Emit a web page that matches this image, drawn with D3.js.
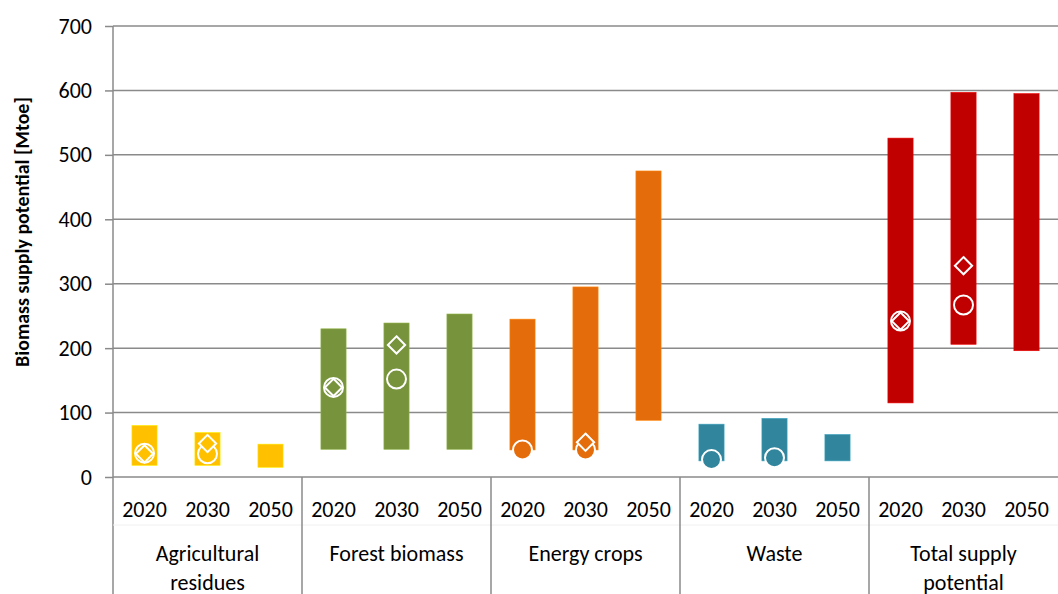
<!DOCTYPE html>
<html>
<head>
<meta charset="utf-8">
<script src="https://cdn.jsdelivr.net/npm/d3@7"></script>
<style>
  html, body { margin: 0; padding: 0; background: #fff; }
  svg { display: block; font-family: Carlito, Calibri, Lato, "Liberation Sans", sans-serif; }
</style>
</head>
<body>
<svg id="chart" width="1058" height="594"></svg>
<script>
const categories = ["Agricultural\nresidues", "Forest biomass", "Energy crops", "Waste", "Total supply\npotential"];
const years = ["2020", "2030", "2050"];
const colors = ["#FFC000", "#77933C", "#E46C0A", "#31859C", "#C00000"];
// range bars: low / high per category and year
const lowValues = [
  [18, 18, 15],
  [43, 43, 43],
  [42, 42, 88],
  [25, 25, 25],
  [115, 206, 196]
];
const highValues = [
  [80, 69, 51],
  [230, 239, 253],
  [245, 295, 475],
  [82, 91, 66],
  [526, 597, 595]
];
// circle markers
const circleValues = [
  [37, 36, null],
  [139, 152, null],
  [42, 42, null],
  [27, 30, null],
  [242, 267, null]
];
// diamond markers
const diamondValues = [
  [36, 52, null],
  [139, 205, null],
  [null, 54, null],
  [null, null, null],
  [242, 328, null]
];
const yTicks = [0, 100, 200, 300, 400, 500, 600, 700];

(function () {
const svg = d3.select("#chart");
const mLeft = 113, mRight = 1058, mTop = 26, mBottom = 477;
const fontSize = 22;

const keys = [];
categories.forEach((c, ci) => years.forEach((y, yi) => keys.push(ci + "|" + yi)));

const x = d3.scaleBand().domain(keys).range([mLeft, mRight]).paddingInner(0.6).paddingOuter(0.3);
const y = d3.scaleLinear().domain([0, 700]).range([mBottom, mTop]);

const gridColor = "#8a8a8a";

// gridlines
svg.append("g").selectAll("line").data(yTicks.filter(d => d > 0)).join("line")
  .attr("x1", mLeft).attr("x2", mRight)
  .attr("y1", d => y(d)).attr("y2", d => y(d))
  .attr("stroke", gridColor).attr("stroke-width", 1.5);

// y axis
const yAxis = d3.axisLeft(y).tickValues(yTicks).tickSize(8).tickPadding(13);
const ya = svg.append("g").attr("transform", `translate(${mLeft},0)`).call(yAxis);
ya.select(".domain").remove();
ya.selectAll(".tick line").attr("stroke", gridColor).attr("stroke-width", 1.5);
ya.selectAll(".tick text").attr("font-size", fontSize).attr("fill", "#000")
  .attr("font-family", "Carlito, Calibri, Lato, sans-serif");

// axis lines
svg.append("line").attr("x1", mLeft).attr("x2", mLeft).attr("y1", mTop).attr("y2", 594)
  .attr("stroke", gridColor).attr("stroke-width", 1.5);
svg.append("line").attr("x1", mLeft).attr("x2", mRight).attr("y1", mBottom).attr("y2", mBottom)
  .attr("stroke", gridColor).attr("stroke-width", 1.5);
// faint level separator
svg.append("line").attr("x1", mLeft).attr("x2", mRight).attr("y1", 525).attr("y2", 525)
  .attr("stroke", "#f0f0f0").attr("stroke-width", 1);
// group separators
const step = x.step();
const sepX = categories.map((c, ci) => mLeft + ci * 3 * step).slice(1);
svg.append("g").selectAll("line").data(sepX).join("line")
  .attr("x1", d => d).attr("x2", d => d).attr("y1", mBottom).attr("y2", 594)
  .attr("stroke", gridColor).attr("stroke-width", 1.5);

// bars
const barData = [];
categories.forEach((c, ci) => years.forEach((yr, yi) => {
  barData.push({ key: ci + "|" + yi, ci, yi, lo: lowValues[ci][yi], hi: highValues[ci][yi],
    circle: circleValues[ci][yi], diamond: diamondValues[ci][yi] });
}));

svg.append("g").selectAll("rect").data(barData).join("rect")
  .attr("x", d => x(d.key)).attr("width", x.bandwidth())
  .attr("y", d => y(d.hi)).attr("height", d => y(d.lo) - y(d.hi))
  .attr("fill", d => colors[d.ci])
  .attr("stroke", d => d3.color(colors[d.ci]).brighter(0.6)).attr("stroke-width", 0.6);

// circles
svg.append("g").selectAll("circle").data(barData.filter(d => d.circle != null)).join("circle")
  .attr("cx", d => x(d.key) + x.bandwidth() / 2).attr("cy", d => y(d.circle)).attr("r", 9.5)
  .attr("fill", d => colors[d.ci]).attr("stroke", "#fff").attr("stroke-width", 2);

// diamonds
const dsym = d3.symbol().type(d3.symbolDiamond2).size(190);
svg.append("g").selectAll("path").data(barData.filter(d => d.diamond != null)).join("path")
  .attr("d", dsym)
  .attr("transform", d => `translate(${x(d.key) + x.bandwidth() / 2},${y(d.diamond)})`)
  .attr("fill", d => colors[d.ci]).attr("stroke", "#fff").attr("stroke-width", 2);

// year labels
svg.append("g").selectAll("text").data(barData).join("text")
  .attr("x", d => x(d.key) + x.bandwidth() / 2).attr("y", 517)
  .attr("text-anchor", "middle").attr("font-size", fontSize).attr("fill", "#000")
  .text(d => years[d.yi]);

// category labels
const catG = svg.append("g");
categories.forEach((c, ci) => {
  const cx = mLeft + (ci * 3 + 1.5) * step;
  const lines = c.split("\n");
  const t = catG.append("text").attr("x", cx).attr("y", 561)
    .attr("text-anchor", "middle").attr("font-size", fontSize).attr("fill", "#000");
  lines.forEach((ln, i) => {
    t.append("tspan").attr("x", cx).attr("dy", i === 0 ? 0 : 29).text(ln);
  });
});

// y axis title
const title = svg.append("text")
  .attr("transform", "translate(29,232) rotate(-90)")
  .attr("text-anchor", "middle").attr("font-size", 18).attr("font-weight", "bold").attr("fill", "#000")
  .text("Biomass supply potential [Mtoe]");
const len = title.node().getComputedTextLength();
if (len > 0) title.attr("font-size", 18 * 270 / len);
})();
</script>
</body>
</html>
